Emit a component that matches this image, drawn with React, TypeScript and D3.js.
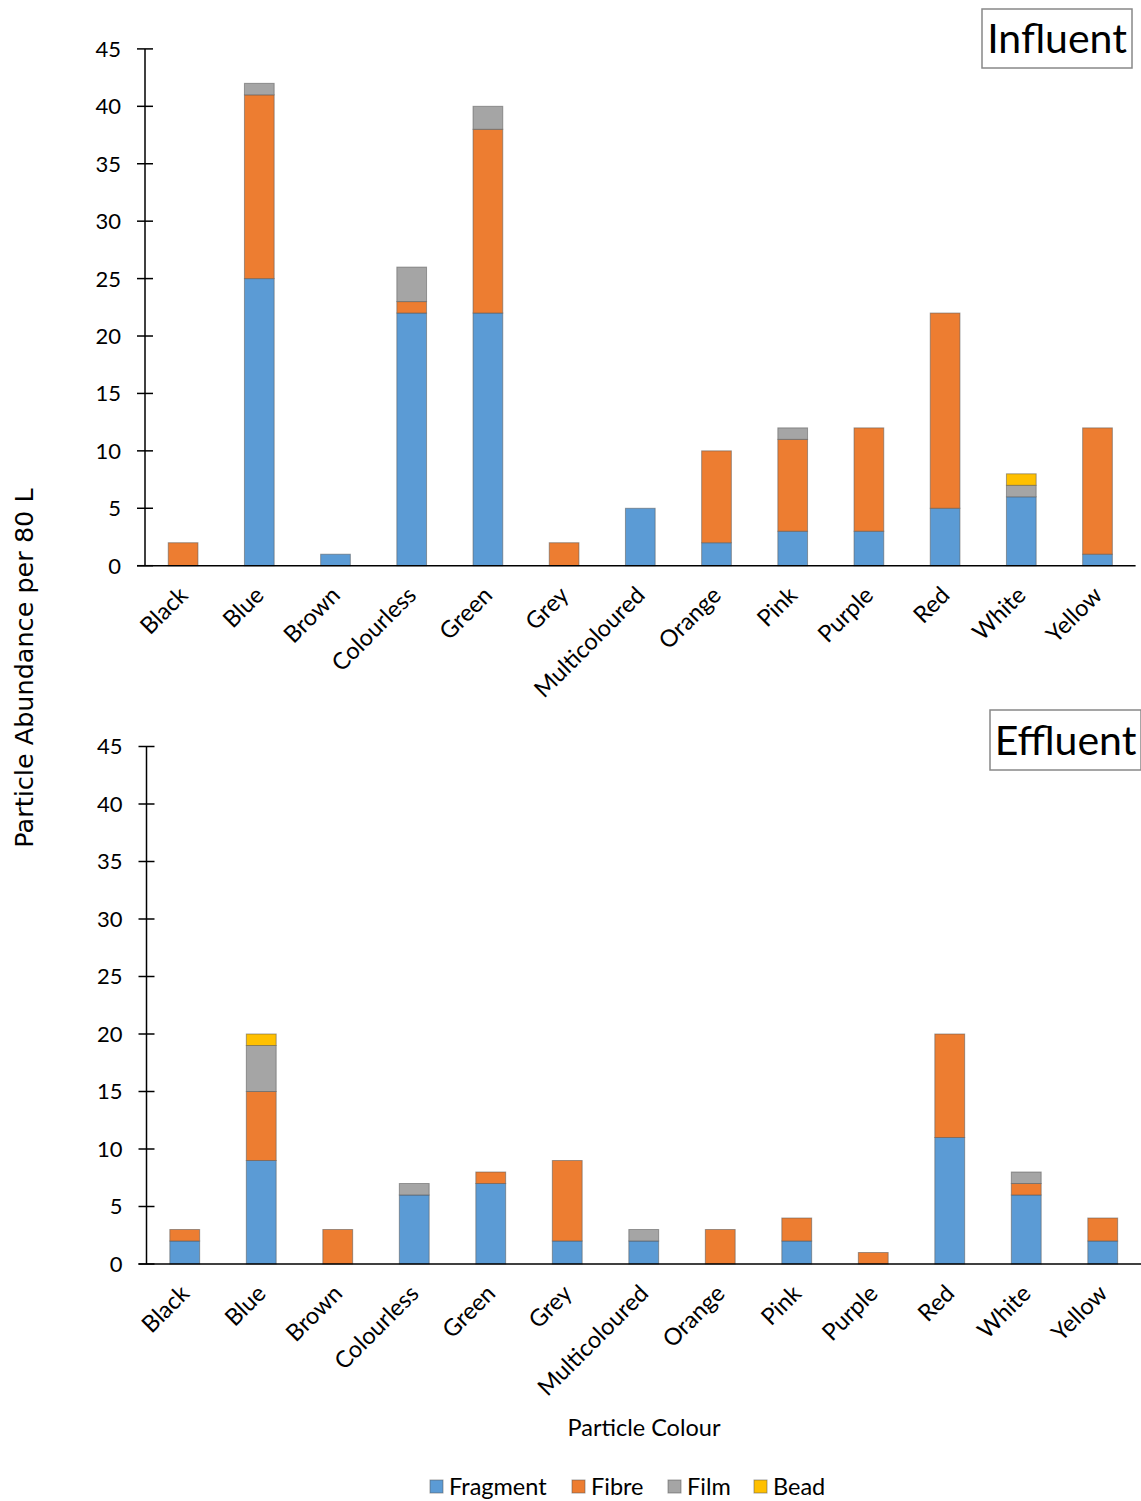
import React from "react";
import * as d3 from "d3";

const categories = ["Black","Blue","Brown","Colourless","Green","Grey","Multicoloured","Orange","Pink","Purple","Red","White","Yellow"];
const seriesNames = ["Fragment","Fibre","Film","Bead"];
const seriesColors = ["#5B9BD5","#ED7D31","#A5A5A5","#FFC000"];
const yTicks = [0,5,10,15,20,25,30,35,40,45];

const influentFragment = [0,25,1,22,22,0,5,2,3,3,5,6,1];
const influentFibre =    [2,16,0,1,16,2,0,8,8,9,17,0,11];
const influentFilm =     [0,1,0,3,2,0,0,0,1,0,0,1,0];
const influentBead =     [0,0,0,0,0,0,0,0,0,0,0,1,0];

const effluentFragment = [2,9,0,6,7,2,2,0,2,0,11,6,2];
const effluentFibre =    [1,6,3,0,1,7,0,3,2,1,9,1,2];
const effluentFilm =     [0,4,0,1,0,0,1,0,0,0,0,1,0];
const effluentBead =     [0,1,0,0,0,0,0,0,0,0,0,0,0];

const FONT = "Lato, 'Open Sans', sans-serif";
const SANS = "'DejaVu Sans', sans-serif";

type PanelProps = {
  series: number[][];
  title: string;
  x0: number; x1: number; yTop: number; yBottom: number;
  box: { x: number; y: number; w: number; h: number };
};

function Panel({ series, title, x0, x1, yTop, yBottom, box }: PanelProps) {
  const x = d3.scaleBand<string>().domain(categories).range([x0, x1]).paddingInner(0.61).paddingOuter(0.305);
  const y = d3.scaleLinear().domain([0, 45]).range([yBottom, yTop]);
  const rows = categories.map((c, i) => {
    const o: any = { cat: c };
    seriesNames.forEach((s, k) => (o[s] = series[k][i]));
    return o;
  });
  const stacked = d3.stack<any>().keys(seriesNames)(rows);
  return (
    <g>
      {stacked.map((layer, k) => (
        <g key={k}>
          {layer.map((d, i) =>
            d[1] - d[0] > 0 ? (
              <rect key={i} x={x(categories[i])!} width={x.bandwidth()} y={y(d[1])} height={y(d[0]) - y(d[1])}
                fill={seriesColors[k]} stroke="rgba(90,90,90,0.55)" strokeWidth={1} />
            ) : null
          )}
        </g>
      ))}
      <line x1={x0} x2={x0} y1={yTop} y2={yBottom} stroke="#000" strokeWidth={1.5} />
      <line x1={x0 - 8} x2={x1} y1={yBottom} y2={yBottom} stroke="#000" strokeWidth={1.5} />
      {yTicks.map((t) => (
        <g key={t}>
          <line x1={x0 - 8} x2={x0 + 8} y1={y(t)} y2={y(t)} stroke="#000" strokeWidth={1.5} />
          <text x={x0 - 24} y={y(t)} dy="0.36em" textAnchor="end" fontSize={22} fontFamily={FONT} fill="#000">{t}</text>
        </g>
      ))}
      {categories.map((c) => {
        const cx = x(c)! + x.bandwidth() / 2 + 6;
        const cy = yBottom + 31;
        return (
          <text key={c} x={cx} y={cy} transform={`rotate(-45 ${cx} ${cy})`} textAnchor="end" fontSize={23.5} fontFamily={FONT} fill="#000">{c}</text>
        );
      })}
      <rect x={box.x} y={box.y} width={box.w} height={box.h} fill="#fff" stroke="#888" strokeWidth={1.5} />
      <text x={box.x + box.w / 2} y={box.y + box.h / 2} dy="0.36em" textAnchor="middle" fontSize={41} fontFamily={FONT} fill="#000">{title}</text>
    </g>
  );
}

export default function App() {
  return (
    <svg width={1141} height={1501} style={{ position: "absolute", left: 0, top: 0, background: "#fff" }}>
      <rect width={1141} height={1501} fill="#fff" />
      <Panel series={[influentFragment, influentFibre, influentFilm, influentBead]} title="Influent"
        x0={145} x1={1135.6} yTop={48.9} yBottom={565.7} box={{ x: 982, y: 9, w: 150, h: 59 }} />
      <Panel series={[effluentFragment, effluentFibre, effluentFilm, effluentBead]} title="Effluent"
        x0={146.5} x1={1141} yTop={746.5} yBottom={1264} box={{ x: 990, y: 710, w: 151, h: 60 }} />
      <text x={24} y={668} transform="rotate(-90 24 668)" textAnchor="middle" dy="0.36em" fontSize={25.5} fontFamily={SANS} fill="#000">Particle Abundance per 80 L</text>
      <text x={644} y={1428} textAnchor="middle" dy="0.36em" fontSize={23.5} fontFamily={FONT} fill="#000">Particle Colour</text>
      {(() => {
        const starts = [430, 572, 668, 754];
        return seriesNames.map((s, k) => (
          <g key={s}>
            <rect x={starts[k]} y={1480} width={13} height={13} fill={seriesColors[k]} stroke="rgba(90,90,90,0.55)" />
            <text x={starts[k] + 19} y={1487} dy="0.36em" fontSize={23.5} fontFamily={FONT} fill="#000">{s}</text>
          </g>
        ));
      })()}
    </svg>
  );
}
